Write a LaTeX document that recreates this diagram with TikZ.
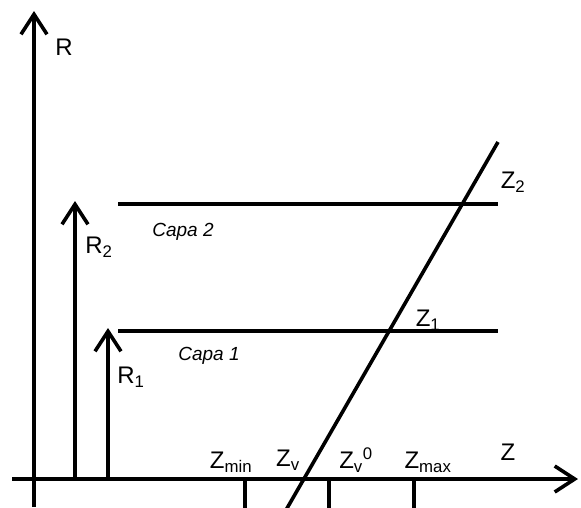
\documentclass[tikz,border=0pt]{standalone}
\usepackage{fontspec}
\setmainfont{Liberation Sans}
\usetikzlibrary{arrows.meta}
\begin{document}
\begin{tikzpicture}[x=1pt,y=-1pt,
  ln/.style={line width=3.6pt},
  ax/.style={ln,-{Straight Barb[length=20pt,width=26pt,line width=3.6pt]}},
  lbl/.style={inner sep=0pt,font=\fontsize{24}{26}\selectfont},
  capalbl/.style={inner sep=0pt,font=\fontsize{19}{21}\selectfont\itshape}]
\useasboundingbox (0,0) rectangle (581,507);
\begin{scope}
\clip (0,0) rectangle (581,507);
% axes
\coordinate (Rb) at (34,507);
\coordinate (Rt) at (34,11);
\coordinate (Zl) at (12,479);
\coordinate (Zr) at (578,479);
\draw[ax] (Rb) -- (Rt);
\draw[ax] (Zl) -- (Zr);
% R2, R1 arrows
\coordinate (R2b) at (75,479);
\coordinate (R2t) at (75,201);
\coordinate (R1b) at (108,479);
\coordinate (R1t) at (108,328);
\draw[ax] (R2b) -- (R2t);
\draw[ax] (R1b) -- (R1t);
% layer lines
\coordinate (L2a) at (118,204);
\coordinate (L2b) at (498,204);
\coordinate (L1a) at (118,331);
\coordinate (L1b) at (498,331);
\draw[ln] (L2a) -- (L2b);
\draw[ln] (L1a) -- (L1b);
% slanted line
\coordinate (Sa) at (286,510);
\coordinate (Sb) at (498,142);
\draw[ln] (Sa) -- (Sb);
% ticks
\coordinate (T1a) at (245,479);
\coordinate (T1b) at (245,510);
\coordinate (T2a) at (329,479);
\coordinate (T2b) at (329,510);
\coordinate (T3a) at (414,479);
\coordinate (T3b) at (414,510);
\draw[ln] (T1a) -- (T1b);
\draw[ln] (T2a) -- (T2b);
\draw[ln] (T3a) -- (T3b);
\end{scope}
% labels
\node[lbl] (lR) at (64,47) {R};
\node[lbl] (lR2) at (99,247) {R\textsubscript{2}};
\node[lbl] (lR1) at (131,377) {R\textsubscript{1}};
\node[capalbl] (c2) at (183,232) {Capa 2};
\node[capalbl] (c1) at (209,356) {Capa 1};
\node[lbl] (lZ2) at (513,182) {Z\textsubscript{2}};
\node[lbl] (lZ1) at (428,320) {Z\textsubscript{1}};
\node[lbl] (lZmin) at (231,462) {Z\textsubscript{min}};
\node[lbl] (lZv) at (288,460) {Z\textsubscript{v}};
\node[lbl] (lZv0) at (356,460) {Z\textsubscript{v}\textsuperscript{0}};
\node[lbl] (lZmax) at (428,462) {Z\textsubscript{max}};
\node[lbl] (lZ) at (508,452) {Z};
\end{tikzpicture}
\end{document}
